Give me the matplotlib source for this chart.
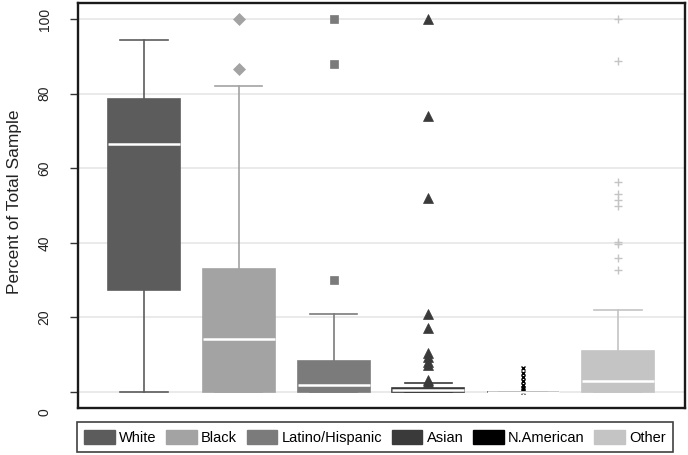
import matplotlib
matplotlib.use("Agg")
import matplotlib.pyplot as plt
from matplotlib.patches import Patch

plt.rcParams['font.family'] = ['Liberation Sans', 'DejaVu Sans']

groups = ["White", "Black", "Latino/Hispanic", "Asian", "N.American", "Other"]
colors = ["#5c5c5c", "#a3a3a3", "#7b7b7b", "#3a3a3a", "#000000", "#c4c4c4"]
q1 = [27.3, 0.0, 0.0, 0.0, 0.0, 0.0]
med = [66.5, 14.2, 1.9, 0.4, 0.0, 2.9]
q3 = [78.5, 33.0, 8.3, 1.0, 0.0, 11.0]
whislo = [0.0, 0.0, 0.0, 0.0, 0.0, 0.0]
whishi = [94.4, 82.0, 20.9, 2.4, 0.0, 22.0]
fliers = [
    [],
    [100.0, 86.6],
    [100.0, 88.0, 30.0],
    [100.0, 74.0, 52.0, 21.0, 17.2, 10.5, 9.3, 8.0, 7.2, 3.2, 2.7],
    [6.4, 5.0, 4.0, 3.0, 1.9, 1.0, 0.5, 0.0],
    [100.0, 88.7, 56.3, 53.1, 51.5, 49.9, 40.2, 39.7, 35.9, 32.7],
]
markers = ["o", "D", "s", "^", "x", "+"]
msizes = [5, 6, 6, 6.5, 3.5, 6]
yticks = [20, 40, 60, 80, 100]

fig = plt.figure(figsize=(6.88, 4.55), dpi=100)
ax = fig.add_axes([78/688, 1 - 408/455, (685-78)/688, (408-3)/455])

stats = []
for i, g in enumerate(groups):
    stats.append(dict(label=g, q1=q1[i], med=med[i], q3=q3[i],
                      whislo=whislo[i], whishi=whishi[i], fliers=fliers[i]))

positions = list(range(1, len(groups) + 1))
for i, s in enumerate(stats):
    c = colors[i]
    ax.bxp([s], positions=[positions[i]], widths=0.76, capwidths=0.5,
           patch_artist=True, showfliers=True,
           boxprops=dict(facecolor=c, edgecolor=c, linewidth=1.2),
           whiskerprops=dict(color=c, linewidth=1.2),
           capprops=dict(color=c, linewidth=1.2),
           medianprops=dict(color="white", linewidth=1.8),
           flierprops=dict(marker=markers[i], markerfacecolor=c,
                           markeredgecolor=c, markersize=msizes[i],
                           markeredgewidth=1.0 if markers[i] in "x+" else 0.5),
           zorder=3)

ax.set_xlim(0.304, 6.707)
ax.set_ylim(-4.3, 104.3)
ax.set_xticks([])
ax.set_yticks([0] + yticks)
ax.set_yticklabels([""] + [str(t) for t in yticks], rotation=90, va="center",
                   fontsize=10, color="#222222")
ax.tick_params(axis="y", length=6, width=1, pad=13, color="#333333")
# the "0" label sits below the axis in the reference
ax.text(-0.055, -5.4, "0", transform=ax.get_yaxis_transform(), rotation=90,
        ha="center", va="center", fontsize=10, color="#222222", clip_on=False)
ax.yaxis.grid(True, color="#e6e6e6", linewidth=1.2, zorder=0)
ax.set_axisbelow(True)
for sp in ax.spines.values():
    sp.set_linewidth(1.7)
    sp.set_color("#1a1a1a")
ax.set_ylabel("Percent of Total Sample", fontsize=12.5, color="#222222")
ax.yaxis.set_label_coords(-0.092, 0.51)

handles = [Patch(facecolor=c, edgecolor=c) for c in colors]
leg = fig.legend(handles, groups, loc="lower left", ncol=6, mode="expand",
                 bbox_to_anchor=(77/688, 1 - 452/455, (673-77)/688, 32/455),
                 fontsize=10.5, frameon=True, fancybox=False, handlelength=2.1,
                 handleheight=1.1, handletextpad=0.3, columnspacing=0.6,
                 borderaxespad=0, borderpad=0.5)
leg.get_frame().set_edgecolor("#111111")
leg.get_frame().set_linewidth(1.2)

fig.savefig("out.png", dpi=100)
